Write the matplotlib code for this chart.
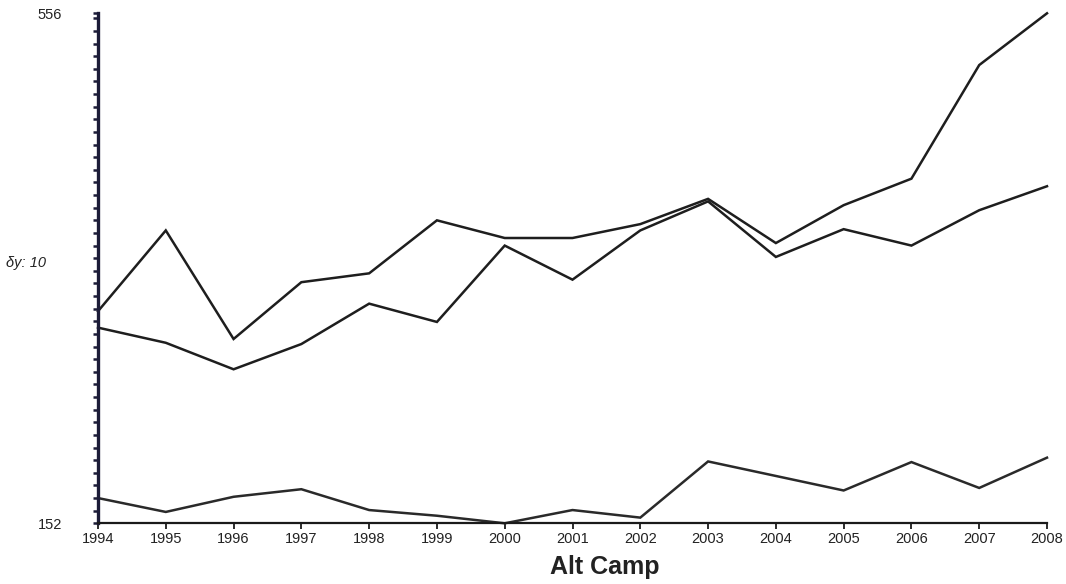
import matplotlib
matplotlib.use("Agg")
import matplotlib.pyplot as plt

plt.rcParams['font.family'] = ['Liberation Sans', 'DejaVu Sans']

years = list(range(1994, 2009))
series_top = [320, 384, 298, 343, 350, 392, 378, 378, 389, 409, 374, 404, 425, 515, 556]
series_mid = [307, 295, 274, 294, 326, 311.5, 372, 345, 384, 407, 363, 385, 372, 400, 419]
series_low = [172, 161, 173, 179, 162.5, 158, 152, 162.5, 156.5, 201, 189.5, 178, 200.5, 180, 204]
y_min, y_max, y_step = 152, 556, 10
x_labels = [str(y) for y in years]

fig = plt.figure(figsize=(10.66, 5.84), dpi=100)
ax = fig.add_axes([98 / 1066, 1 - 523.3 / 584, (1047 - 98) / 1066, (523.3 - 13.3) / 584])

for vals, col in [(series_top, '#1e1e1e'), (series_mid, '#1e1e1e'), (series_low, '#2a2a2a')]:
    ax.plot(years, vals, color=col, linewidth=1.8, solid_joinstyle='miter', clip_on=False)

ax.set_xlim(years[0], years[-1])
ax.set_ylim(y_min, y_max)

ax.set_xticks(years)
ax.set_xticklabels(x_labels, fontsize=10.5)
ax.set_yticks([y_min, y_max])
ax.set_yticklabels([str(y_min), str(y_max)], fontsize=10.5)
ax.set_yticks(list(range(y_min + y_step, y_max, y_step)), minor=True)

navy = '#1c1c38'
ax.spines['top'].set_visible(False)
ax.spines['right'].set_visible(False)
ax.spines['left'].set_color(navy)
ax.spines['left'].set_linewidth(2.4)
ax.spines['bottom'].set_color('#1a1a1a')
ax.spines['bottom'].set_linewidth(1.6)

ax.tick_params(axis='y', which='both', direction='out', length=3.5, width=1.8,
               color=navy, pad=22.5, labelcolor='#222222')
ax.tick_params(axis='x', which='major', direction='out', length=4, width=1.3,
               color='#1a1a1a', pad=2.5, labelcolor='#222222')

fig.text(6 / 1066, 1 - 263 / 584, 'δy: 10', fontsize=10.5, style='italic',
         ha='left', va='center', color='#222222')
fig.text(605 / 1066, 1 - 574 / 584, 'Alt Camp', fontsize=18, weight='bold',
         ha='center', va='baseline', color='#222222')

fig.savefig('out.png', dpi=100)
